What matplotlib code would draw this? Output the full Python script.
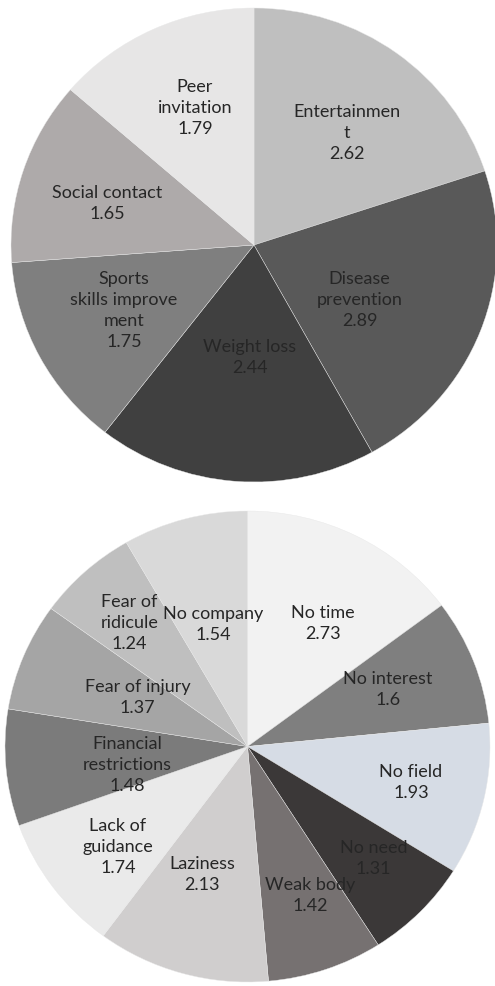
import matplotlib
matplotlib.use("Agg")
import matplotlib.pyplot as plt
import numpy as np

# ---------------- data ----------------
top_categories = ["Entertainmen\nt", "Disease\nprevention", "Weight loss",
                  "Sports\nskills improve\nment", "Social contact", "Peer\ninvitation"]
top_values = [2.62, 2.89, 2.44, 1.75, 1.65, 1.79]
top_colors = ["#bfbfbf", "#595959", "#404040", "#7f7f7f", "#aeaaaa", "#e7e6e6"]

bottom_categories = ["No time", "No interest", "No field", "No need", "Weak body",
                     "Laziness", "Lack of\nguidance", "Financial\nrestrictions",
                     "Fear of injury", "Fear of\nridicule", "No company"]
bottom_values = [2.73, 1.6, 1.93, 1.31, 1.42, 2.13, 1.74, 1.48, 1.37, 1.24, 1.54]
bottom_colors = ["#f2f2f2", "#7f7f7f", "#d6dce5", "#3b3838", "#767171", "#d0cece",
                 "#eaeaea", "#7b7b7b", "#a5a5a5", "#bfbfbf", "#d9d9d9"]

# label placement style (radial fraction, angular offset in degrees)
top_label_r = [0.61, 0.49, 0.47, 0.60, 0.63, 0.63]
top_label_off = [-2.9, -6.2, 2.4, -1.4, 1.7, -1.8]
bottom_label_r = [0.61, 0.63, 0.69, 0.70, 0.68, 0.57, 0.68, 0.50, 0.50, 0.72, 0.54]
bottom_label_off = [-3.9, 1.7, 0.8, 2.5, 3.7, -3.4, 1.7, 3.3, -2.6, 0.5, 0.3]

plt.rcParams['font.family'] = ['Lato', 'DejaVu Sans']

fig = plt.figure(figsize=(4.95, 9.87), dpi=100)
fig.patch.set_facecolor("white")


def draw_pie(rect, cats, vals, cols, lr, loff):
    ax = fig.add_axes(rect)
    wedges, _ = ax.pie(vals, colors=cols, startangle=90, counterclock=False,
                       radius=1.0,
                       wedgeprops=dict(edgecolor="#e8e8e8", linewidth=0.3))
    ax.set_aspect("auto")
    ax.set_xlim(-1, 1)
    ax.set_ylim(-1, 1)
    ax.axis("off")
    for w, c, v, r, off in zip(wedges, cats, vals, lr, loff):
        mid = np.deg2rad((w.theta1 + w.theta2) / 2.0 + off)
        ax.text(r * np.cos(mid), r * np.sin(mid), f"{c}\n{v:g}",
                ha="center", va="center", fontsize=13, color="#262626",
                linespacing=1.38)
    return ax


draw_pie([11 / 495, 1 - 483 / 987, 486 / 495, 474 / 987],
         top_categories, top_values, top_colors, top_label_r, top_label_off)
draw_pie([5 / 495, 1 - 983 / 987, 485 / 495, 471 / 987],
         bottom_categories, bottom_values, bottom_colors, bottom_label_r, bottom_label_off)

fig.savefig("out.png", dpi=100)
